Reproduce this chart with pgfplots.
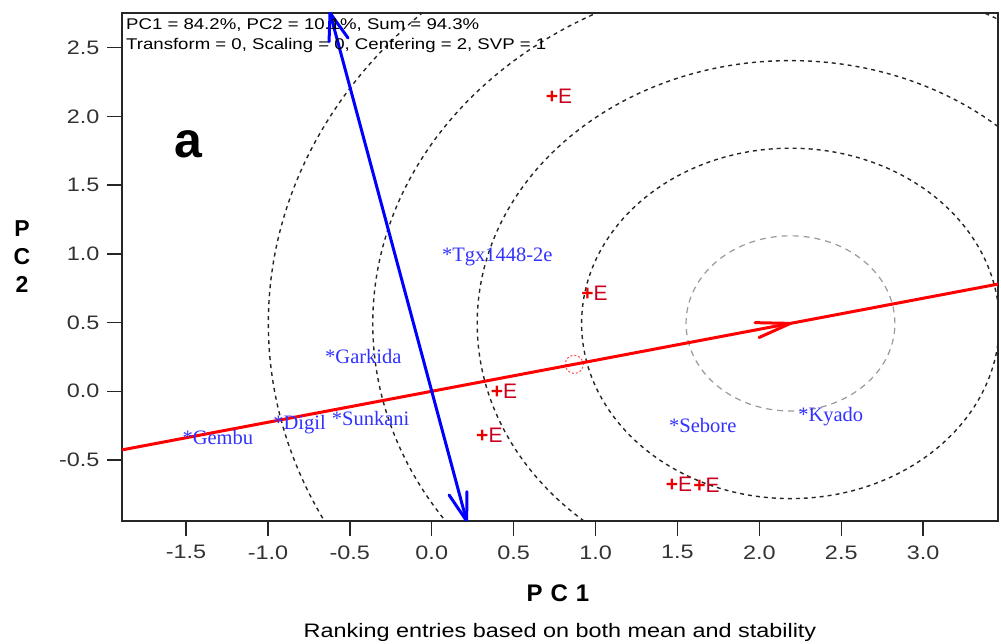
\documentclass[border=0pt]{standalone}
\usepackage{fontspec}
\usepackage{pgfplots}
\usepackage{pgfplotstable}
\pgfplotsset{compat=1.18}
\setmainfont{Liberation Sans}
\newfontfamily\widesans[FakeStretch=1.2]{Liberation Sans}
\newfontfamily\genofont{Liberation Serif}
\definecolor{genoblue}{RGB}{50,50,255}
\definecolor{envred}{RGB}{200,0,30}
\definecolor{plusred}{RGB}{235,0,0}
\definecolor{aecred}{RGB}{255,0,0}
\definecolor{aecblue}{RGB}{0,0,255}

\pgfplotstableread{
x y label
0.092 1.007 Tgx1448-2e
-0.621 0.265 Garkida
-1.492 -0.325 Gembu
-0.938 -0.214 Digil
-0.580 -0.187 Sunkani
1.479 -0.231 Sebore
2.267 -0.158 Kyado
}\genos

\pgfplotstableread{
x y label
0.732 2.144 E
0.949 0.715 E
0.397 -0.003 E
0.307 -0.325 E
1.465 -0.675 E
1.632 -0.683 E
}\envs

\begin{document}
\begin{tikzpicture}[x=1pt,y=1pt]
\useasboundingbox (0,0) rectangle (1001,644);
\begin{axis}[
  at={(122pt,123pt)}, anchor=south west,
  scale only axis, width=876pt, height=508pt,
  xmin=-1.891, xmax=3.457, ymin=-0.944, ymax=2.753,
  axis line style={line width=1.4pt, black!85},
  tick style={line width=1.4pt, black!85},
  tick align=outside, major tick length=15pt,
  xtick pos=bottom, ytick pos=left,
  xtick={-1.5,-1,-0.5,0,0.5,1,1.5,2,2.5,3},
  ytick={-0.5,0,0.5,1,1.5,2,2.5},
  ticklabel style={font=\widesans\fontsize{19.5}{20}\selectfont, text=black!80},
  xticklabel style={yshift=-6pt},
  yticklabel style={xshift=-4pt},
  /pgf/number format/fixed,
  /pgf/number format/fixed zerofill,
  /pgf/number format/precision=1,
  /pgf/number format/assume math mode=true,
  clip mode=global,
]
% concentric circles around the ideal point
\draw[gray!80, dash pattern=on 6pt off 5pt, line width=1.2pt] (axis cs:2.19,0.494) ellipse [x radius=0.6375, y radius=0.6375];
\draw[black!85, dash pattern=on 4pt off 4pt, line width=1.4pt] (axis cs:2.19,0.494) ellipse [x radius=1.275, y radius=1.275];
\draw[black!85, dash pattern=on 4pt off 4pt, line width=1.4pt] (axis cs:2.19,0.494) ellipse [x radius=1.9125, y radius=1.9125];
\draw[black!85, dash pattern=on 4pt off 4pt, line width=1.4pt] (axis cs:2.19,0.494) ellipse [x radius=2.55, y radius=2.55];
\draw[black!85, dash pattern=on 4pt off 4pt, line width=1.4pt] (axis cs:2.19,0.494) ellipse [x radius=3.1875, y radius=3.1875];
% average environment marker
\draw[aecred!70, dash pattern=on 2pt off 2pt, line width=1pt] (axis cs:0.87,0.196) ellipse [x radius=0.055, y radius=0.066];
% AEC abscissa
\addplot[aecred, line width=3pt] coordinates {(-1.891,-0.4266) (3.457,0.780)};
\addplot[aecred, line width=3pt, line join=round, line cap=round] coordinates {(1.974,0.4995) (2.19,0.494) (1.998,0.391)};
% AEC ordinate
\addplot[aecblue, line width=3pt] coordinates {(-0.621,2.753) (0.213,-0.944)};
\addplot[aecblue, line width=3pt, line join=round, line cap=round] coordinates {(-0.627,2.544) (-0.621,2.753) (-0.511,2.571)};
\addplot[aecblue, line width=3pt, line join=round, line cap=round] coordinates {(0.215,-0.731) (0.213,-0.944) (0.106,-0.755)};
% genotypes
\addplot[draw=none, mark=none, nodes near coords={*\pgfplotspointmeta}, point meta=explicit symbolic,
  nodes near coords style={anchor=base west, inner sep=0pt, xshift=-5pt, yshift=-9pt, text=genoblue, font=\genofont\fontsize{20.5}{21}\selectfont}]
  table[x=x, y=y, meta=label] {\genos};
% environments
\addplot[draw=none, mark=none, nodes near coords={{\color{plusred}\bfseries+}\pgfplotspointmeta}, point meta=explicit symbolic,
  nodes near coords style={anchor=base west, inner sep=0pt, xshift=-6pt, yshift=-7pt, text=envred, font=\fontsize{21}{21}\selectfont}]
  table[x=x, y=y, meta=label] {\envs};
\end{axis}
\node[anchor=base west, inner sep=0pt, font=\widesans\fontsize{15.5}{16}\selectfont] at (126,614) {PC1 = 84.2\%, PC2 = 10.1\%, Sum = 94.3\%};
\node[anchor=base west, inner sep=0pt, font=\widesans\fontsize{15.5}{16}\selectfont] at (126,594) {Transform = 0, Scaling = 0, Centering = 2, SVP = 1};
\node[anchor=base west, inner sep=0pt, font=\bfseries\fontsize{50}{50}\selectfont] at (174,486) {a};
\node[align=center, inner sep=0pt, font=\bfseries\fontsize{23}{28}\selectfont] at (22,387) {P\\C\\2};
\node[inner sep=0pt, font=\bfseries\fontsize{24}{24}\selectfont] at (558,51) {P\,\,C\,\,1};
\node[inner sep=0pt, font=\widesans\fontsize{19.5}{20}\selectfont] at (560,12) {Ranking entries based on both mean and stability};
\end{tikzpicture}
\end{document}
